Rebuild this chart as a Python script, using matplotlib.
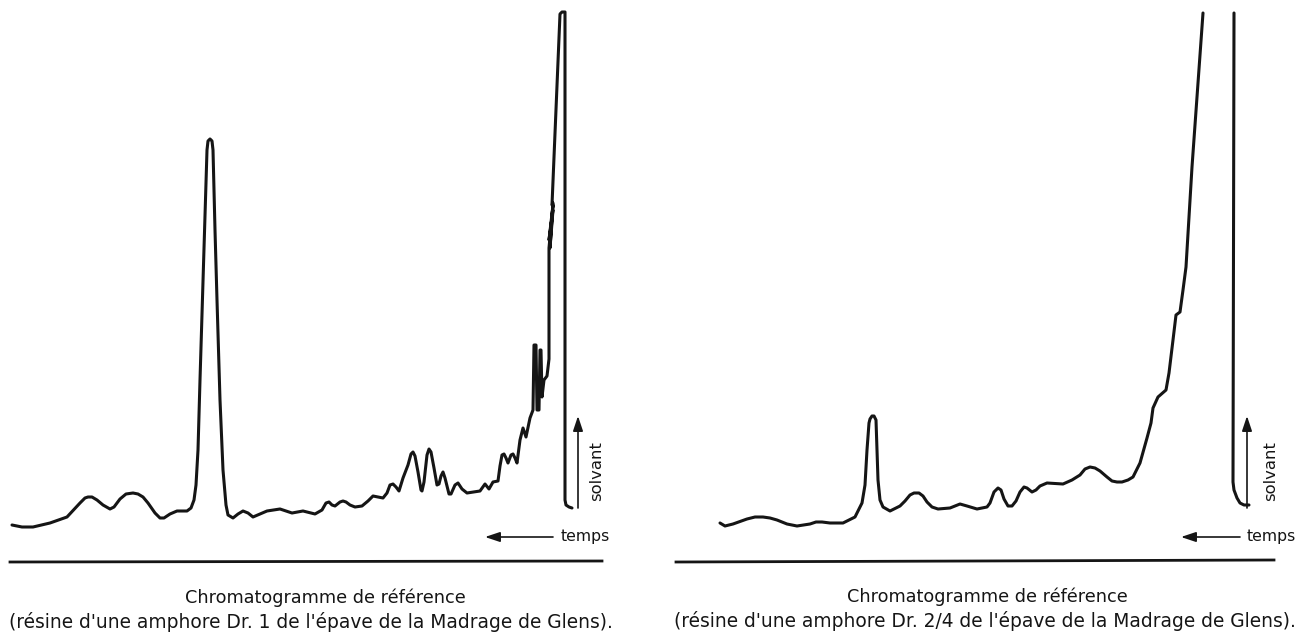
import numpy as np
import matplotlib
matplotlib.use("Agg")
import matplotlib.pyplot as plt

plt.rcParams["font.family"] = ["DejaVu Sans"]

# trace (x along the paper, y = pen position, downwards)
left_x = [12, 22, 33, 50, 67, 80, 85, 88, 92, 97, 103, 110, 114, 120, 126, 133,
          138, 143, 148, 155, 160, 164, 170, 177, 187, 191, 194, 196, 198, 200,
          203, 206, 207, 208, 210, 212, 213, 215, 217, 220, 223, 226, 228, 233,
          238, 243, 248, 253, 260, 267, 280, 292, 303, 315, 322, 326, 329, 332,
          335, 340, 343, 346, 350, 355, 362, 368, 373, 383, 387, 390, 393, 396,
          399, 403, 408, 411, 413, 415, 418, 421, 422, 424, 427, 429, 431, 434,
          437, 439, 441, 443, 445, 449, 451, 455, 458, 462, 467, 480, 485, 489,
          493, 498, 500, 502, 504, 506, 508, 511, 513, 515, 517, 520, 523, 526,
          530, 533, 534, 536, 537, 539, 540, 541, 542, 544, 547, 549, 549, 553,
          549, 553, 550, 553, 552, 560, 562, 565, 565, 566, 569, 572]
left_y = [525, 527, 527, 523, 517, 503, 498, 497, 497, 500, 505, 509, 507, 499,
          494, 493, 494, 497, 503, 513, 518, 518, 514, 511, 511, 508, 500, 485,
          450, 380, 280, 180, 150, 141, 139, 141, 150, 230, 300, 400, 470, 505,
          515, 518, 514, 511, 513, 517, 514, 511, 509, 513, 511, 514, 510, 503,
          502, 505, 506, 502, 501, 502, 505, 507, 506, 501, 496, 498, 493, 485,
          484, 487, 491, 478, 465, 454, 452, 456, 472, 490, 491, 482, 455, 449,
          452, 468, 485, 484, 476, 472, 478, 494, 494, 485, 483, 489, 493, 491,
          484, 489, 482, 481, 466, 455, 454, 458, 463, 455, 454, 458, 463, 440,
          428, 437, 418, 410, 345, 345, 410, 410, 350, 350, 397, 380, 376, 359,
          248, 205, 240, 210, 248, 203, 205, 14, 12, 12, 500, 505, 507, 508]

right_x = [720, 725, 733, 747, 755, 763, 770, 777, 787, 797, 810, 816, 822, 830,
           843, 855, 862, 865, 867, 869, 870, 872, 874, 876, 877, 878, 880, 883,
           890, 900, 905, 910, 914, 919, 923, 927, 932, 938, 950, 955, 960, 967,
           977, 987, 990, 994, 998, 1001, 1004, 1008, 1012, 1016, 1020, 1024,
           1027, 1032, 1036, 1040, 1047, 1063, 1072, 1080, 1085, 1090, 1095,
           1100, 1107, 1112, 1117, 1122, 1128, 1133, 1140, 1147, 1151, 1153,
           1158, 1166, 1169, 1173, 1176, 1180, 1183, 1186, 1192, 1203, np.nan,
           1234, 1233, 1234, 1237, 1240, 1244, 1249]
right_y = [523, 526, 524, 519, 517, 517, 518, 520, 524, 526, 524, 522, 522, 523,
           523, 517, 503, 485, 450, 423, 419, 416, 416, 420, 450, 480, 500, 507,
           511, 506, 501, 495, 493, 493, 496, 502, 507, 509, 508, 506, 504, 506,
           509, 507, 503, 492, 488, 490, 499, 506, 506, 501, 492, 487, 488, 492,
           490, 486, 483, 484, 480, 475, 469, 467, 468, 471, 477, 481, 482, 482,
           480, 477, 463, 438, 423, 408, 397, 390, 373, 340, 315, 312, 290, 267,
           167, 13, np.nan, 13, 482, 490, 498, 503, 505, 505]

caption_title = "Chromatogramme de référence"
caption_left = "(résine d'une amphore Dr. 1 de l'épave de la Madrage de Glens)."
caption_right = "(résine d'une amphore Dr. 2/4 de l'épave de la Madrage de Glens)."

ink = "#151515"

fig = plt.figure(figsize=(13.01, 6.34), dpi=100)
ax = fig.add_axes([0, 0, 1, 1])
ax.set_xlim(0, 1301)
ax.set_ylim(634, 0)
ax.axis("off")

ax.plot(left_x, left_y, color=ink, lw=2.2, solid_joinstyle="round",
        solid_capstyle="round")
ax.plot(right_x, right_y, color=ink, lw=2.2, solid_joinstyle="round",
        solid_capstyle="round")

# base rules
ax.plot([10, 602], [562, 561], color=ink, lw=2.0)
ax.plot([676, 1274], [562, 560], color=ink, lw=2.0)

arrow = dict(arrowstyle="-|>,head_length=0.9,head_width=0.3", color=ink, lw=1.2,
             shrinkA=0, shrinkB=0)
for x_solv, x_txt, x_t0, x_t1, x_tt in [(578, 597, 553, 485, 561),
                                         (1247, 1271, 1240, 1181, 1247)]:
    ax.annotate("", xy=(x_solv, 416), xytext=(x_solv, 508), arrowprops=arrow)
    ax.text(x_txt, 471, "solvant", rotation=90, ha="center", va="center",
            fontsize=11.8, color=ink)
    ax.annotate("", xy=(x_t1, 537), xytext=(x_t0, 537), arrowprops=arrow)
    ax.text(x_tt, 536, "temps", ha="left", va="center", fontsize=11.3, color=ink)

ax.text(325, 598, caption_title, ha="center", va="center", fontsize=12.7, color=ink)
ax.text(311, 622, caption_left, ha="center", va="center", fontsize=13.4, color=ink)
ax.text(987, 597, caption_title, ha="center", va="center", fontsize=12.7, color=ink)
ax.text(985, 621, caption_right, ha="center", va="center", fontsize=13.4, color=ink)

fig.savefig("out.png", dpi=100)
